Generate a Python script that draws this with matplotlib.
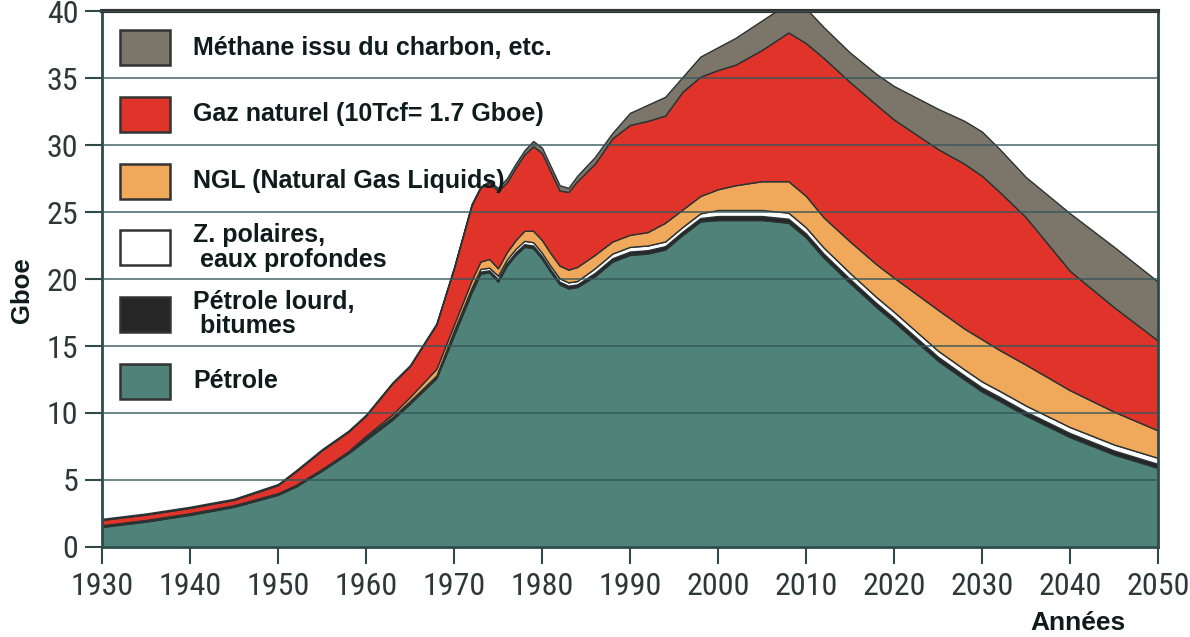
import matplotlib
matplotlib.use("Agg")
import matplotlib.pyplot as plt
from matplotlib.patches import Rectangle
from matplotlib import font_manager

# ---------------------------------------------------------------- data (Gboe)
years = [1930, 1935, 1940, 1945, 1950, 1952, 1955, 1958, 1960, 1963,
         1965, 1968, 1970, 1972, 1973, 1974, 1975, 1976, 1977, 1978,
         1979, 1980, 1981, 1982, 1983, 1984, 1986, 1988, 1990, 1992,
         1994, 1996, 1998, 2000, 2002, 2005, 2008, 2010, 2012, 2015,
         2018, 2020, 2025, 2028, 2030, 2032, 2035, 2040, 2045, 2050]

petrole = [1.5, 1.9, 2.4, 3.0, 3.9, 4.5, 5.7, 7.0, 8.0, 9.5,
           10.7, 12.6, 15.8, 19.0, 20.4, 20.5, 19.8, 21.0, 21.8, 22.4,
           22.3, 21.5, 20.5, 19.6, 19.3, 19.4, 20.2, 21.3, 21.8, 21.9,
           22.2, 23.3, 24.3, 24.4, 24.4, 24.4, 24.2, 23.1, 21.6, 19.7,
           17.9, 16.8, 13.9, 12.5, 11.6, 10.9, 9.8, 8.2, 6.9, 5.9]

petrole_lourd = [0.05] * 8 + [0.1] * 4 + [0.15] * 4 + [0.2] * 10 + [0.25] * 7 + [0.3] * 17

polaires = [0.05] * 8 + [0.1] * 4 + [0.2] * 4 + [0.25] * 10 + [0.35] * 7 + [0.45] * 17

ngl = [0.02, 0.02, 0.02, 0.02, 0.02, 0.02, 0.02, 0.05, 0.1, 0.2,
       0.3, 0.5, 0.45, 0.55, 0.55, 0.65, 0.55, 0.55, 0.65, 0.75,
       0.85, 0.95, 0.95, 0.95, 0.95, 1.05, 1.0, 0.9, 0.9, 1.0,
       1.4, 1.3, 1.3, 1.55, 1.85, 2.15, 2.35, 2.35, 2.25, 2.35,
       2.45, 2.55, 3.05, 3.05, 3.15, 3.05, 3.05, 2.75, 2.45, 2.05]

gaz = [0.4, 0.4, 0.4, 0.4, 0.6, 1.0, 1.4, 1.45, 1.5, 2.3,
       2.3, 3.3, 4.2, 5.6, 5.5, 5.7, 5.8, 5.2, 5.4, 5.7,
       6.3, 6.5, 6.1, 5.6, 5.8, 6.4, 6.8, 7.7, 8.2, 8.3,
       8.0, 8.8, 8.9, 8.9, 9.0, 9.8, 11.1, 11.4, 11.9, 11.9,
       11.9, 11.8, 12.0, 12.3, 12.2, 11.8, 11.0, 8.9, 7.8, 6.7]

methane = [0.08] * 13 + [0.1, 0.1, 0.1, 0.2, 0.3, 0.3, 0.3, 0.4, 0.4, 0.4,
                         0.4, 0.3, 0.4, 0.5, 0.4, 0.9, 1.2, 1.4, 1.1, 1.5,
                         1.7, 2.0, 2.2, 2.2, 2.6, 2.3, 2.2, 2.3, 2.5, 3.0,
                         3.2, 3.3, 3.2, 3.0, 4.3, 4.5, 4.4]

labels = ["Pétrole", "Pétrole lourd,\n bitumes", "Z. polaires,\n eaux profondes",
          "NGL (Natural Gas Liquids)", "Gaz naturel (10Tcf= 1.7 Gboe)",
          "Méthane issu du charbon, etc."]
colors = ["#4f8279", "#262626", "#ffffff", "#f0a85a", "#e0332a", "#7c7569"]

x_ticks = list(range(1930, 2051, 10))
y_ticks = list(range(0, 41, 5))

# ---------------------------------------------------------------- fonts
bold_font = "Liberation Sans"


def condensed_font():
    """Return (family, stretch, size) for the tick labels."""
    entries = font_manager.fontManager.ttflist
    names = {f.name for f in entries}
    for nm in ("Liberation Sans Narrow", "Arial Narrow", "Roboto Condensed",
               "Open Sans Condensed", "Noto Sans Condensed", "DejaVu Sans Condensed"):
        if nm in names:
            return nm, "normal", 23
    for fam in ("Liberation Sans", "Noto Sans", "Open Sans", "Roboto", "DejaVu Sans"):
        for f in entries:
            if f.name == fam and str(f.stretch).lower() in ("condensed", "semi-condensed"):
                return fam, f.stretch, 22
    return "Liberation Sans", "normal", 20


tick_family, tick_stretch, tick_size = condensed_font()

# ---------------------------------------------------------------- figure
fig = plt.figure(figsize=(11.9, 6.37), dpi=100)
ax = fig.add_axes([0.0857, 0.1413, 0.8874, 0.8414])

ax.stackplot(years, petrole, petrole_lourd, polaires, ngl, gaz, methane,
             colors=colors, edgecolor="#2a3232", linewidth=1.0)

ax.set_xlim(1930, 2050)
ax.set_ylim(0, 40)
ax.set_xticks(x_ticks)
ax.set_yticks(y_ticks)

# horizontal grid drawn over the areas
ax.set_axisbelow(False)
ax.yaxis.grid(True, color="#36575a", linewidth=1.2, alpha=0.85)
ax.xaxis.grid(False)

grid_col = "#2f4a4a"
for side in ("left", "bottom", "right"):
    ax.spines[side].set_color(grid_col)
    ax.spines[side].set_linewidth(2)
ax.spines["top"].set_color("#333333")
ax.spines["top"].set_linewidth(3)

ax.tick_params(axis="both", direction="out", length=12, width=1.5,
               color=grid_col, labelcolor="#2e3838", labelsize=tick_size)
ax.tick_params(axis="y", pad=5)
ax.tick_params(axis="x", pad=6)
for lab in ax.get_xticklabels() + ax.get_yticklabels():
    lab.set_fontfamily(tick_family)
    lab.set_fontstretch(tick_stretch)

# legend drawn as boxes and labels inside the plot area
box_x0, box_w, box_h = 0.0170, 0.0474, 0.0653
text_x = 0.0862
centers = [0.3097, 0.4347, 0.5588, 0.6828, 0.8078, 0.9319]
for lab, col, yc in zip(labels, colors, centers):
    ax.add_patch(Rectangle((box_x0, yc - box_h / 2), box_w, box_h,
                           transform=ax.transAxes, facecolor=col,
                           edgecolor="#333333", linewidth=1.8, zorder=5))
    ax.text(text_x, yc, lab, transform=ax.transAxes, ha="left", va="center",
            fontsize=18, fontweight="bold", family=bold_font,
            color="#0f1c1c", linespacing=1.05, zorder=6)

fig.text(22 / 1190, 1 - 290 / 637, "Gboe", rotation=90, ha="center", va="center",
         fontsize=18.5, fontweight="bold", family=bold_font, color="#0f1c1c")
fig.text(1078 / 1190, 1 - 630 / 637, "Années", ha="center", va="baseline",
         fontsize=19, fontweight="bold", family=bold_font, color="#0f1c1c")

fig.savefig("out.png", dpi=100)
